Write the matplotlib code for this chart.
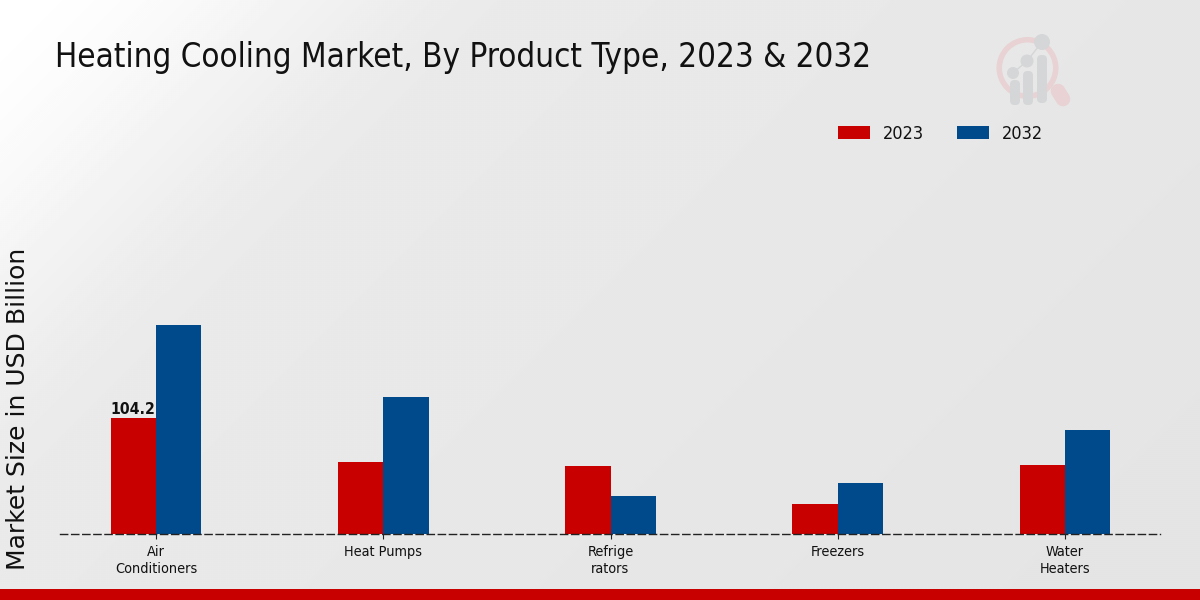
import numpy as np
import matplotlib
matplotlib.use("Agg")
import matplotlib.pyplot as plt
from matplotlib.patches import Circle, FancyBboxPatch, Rectangle, Wedge
from matplotlib.lines import Line2D

categories = ["Air\nConditioners", "Heat Pumps", "Refrige\nrators", "Freezers", "Water\nHeaters"]
values_2023 = [104.2, 64.7, 61.0, 27.0, 62.0]
values_2032 = [187.8, 123.0, 34.0, 46.0, 93.5]
series_names = ["2023", "2032"]
COLORS = ["#C80000", "#004A8B"]
W, H = 1200, 600

fig = plt.figure(figsize=(12, 6), dpi=100)

# background + decorations in pixel coordinates
bg = fig.add_axes([0, 0, 1, 1], zorder=0)
bg.axis("off")
yy, xx = np.mgrid[0:1:300j, 0:1:600j]
t = np.clip((xx * 2 + yy) / 0.9, 0, 1)
t = t * t * (3 - 2 * t)
t2 = np.clip((xx * 2 + yy) / 3, 0, 1)
grey = 1 - 0.075 * t - 0.03 * t2
bg.imshow(grey, cmap="gray", vmin=0, vmax=1, extent=(0, W, H, 0), aspect="auto", zorder=0,
          interpolation="bilinear")
bg.set_xlim(0, W); bg.set_ylim(H, 0)
bg.add_patch(Rectangle((0, 589), W, 11, color="#C80000", lw=0, zorder=1))

# logo
PINK = "#E8D2D3"; LG = "#D5D6D8"
bg.add_patch(Wedge((1027.5, 68), 31, 0, 360, width=5.5, color=PINK, lw=0, zorder=1))
bg.add_line(Line2D([1058, 1063], [91, 99], color=PINK, lw=10.5, solid_capstyle="round", zorder=1))
for cx, top, bottom in [(1015, 80, 105), (1028, 71, 105), (1042, 55, 103)]:
    bg.add_patch(FancyBboxPatch((cx - 5, top), 10, bottom - top,
                                boxstyle="round,pad=0,rounding_size=4.5", color=LG, lw=0, zorder=2))
for cx, cy, r in [(1013, 73, 6), (1027, 61, 6.5), (1042, 42, 8)]:
    bg.add_patch(Circle((cx, cy), r, color=LG, lw=0, zorder=2))
bg.add_line(Line2D([1013, 1027, 1042], [73, 61, 42], color=LG, lw=1, zorder=2))

# chart
ax_l, ax_r, ax_b, ax_t = 60, 1160, 534, 110
ax = fig.add_axes([ax_l / W, 1 - ax_b / H, (ax_r - ax_l) / W, (ax_b - ax_t) / H], zorder=3)
ax.patch.set_alpha(0)
x = np.arange(len(categories))
bw = 0.2
bars1 = ax.bar(x - bw / 2, values_2023, bw, color=COLORS[0], label=series_names[0])
bars2 = ax.bar(x + bw / 2, values_2032, bw, color=COLORS[1], label=series_names[1])
ax.set_xlim((ax_l - 156) / 227.25, (ax_r - 156) / 227.25)
ax.set_ylim(0, (ax_b - ax_t) / 1.113)
for s in ["top", "left", "right"]:
    ax.spines[s].set_visible(False)
ax.spines["bottom"].set_linestyle((0, (5.2, 2.8)))
ax.spines["bottom"].set_linewidth(1)
ax.spines["bottom"].set_color("#222222")
ax.set_yticks([])
ax.set_xticks(x)
ax.set_xticklabels(categories, fontsize=10.4, stretch="condensed", color="#111111", linespacing=1.3)
ax.tick_params(axis="x", length=3.5, width=0.8, pad=4.3, color="#222222")
ax.text(x[0] - bw / 2, values_2023[0] + 0.6, f"{values_2023[0]}", ha="center", va="bottom",
        fontsize=11.3, fontweight="bold", stretch="condensed", color="#111111")

fig.text(55 / W, 1 - 57.5 / H, "Heating Cooling Market, By Product Type, 2023 & 2032",
         fontsize=23.72, stretch="condensed", color="#111111", va="center", ha="left", zorder=5)
fig.text(18 / W, 1 - 408.5 / H, "Market Size in USD Billion", fontsize=18, rotation=90,
         color="#111111", va="center", ha="center", zorder=5)

leg = fig.legend(handles=[bars1, bars2], labels=series_names, loc="center",
                 bbox_to_anchor=(940.5 / W, 1 - 134 / H), ncol=2, frameon=False,
                 prop={"size": 13, "stretch": "condensed"},
                 handlelength=1.77, handleheight=0.7, columnspacing=1.85, handletextpad=0.72)
for t_ in leg.get_texts():
    t_.set_color("#111111")
fig.savefig("out.png", dpi=100)
